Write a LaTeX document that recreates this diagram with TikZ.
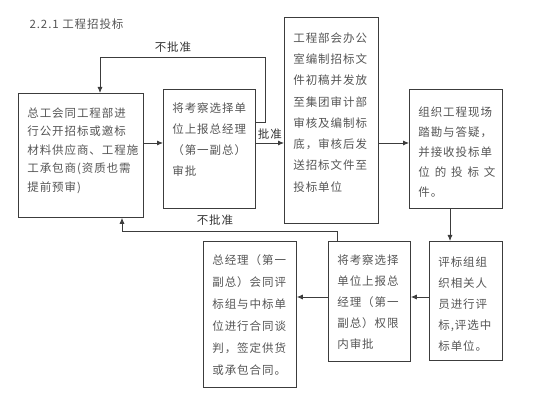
\documentclass[tikz,border=0pt]{standalone}
\usepackage{fontspec}
\setmainfont{Noto Sans CJK SC}[LetterSpace=8]
\usetikzlibrary{arrows.meta}
\definecolor{boxline}{HTML}{3C3C3C}
\definecolor{boxtext}{HTML}{555555}
% width, height, top gap, line skip, lines
\newcommand{\flowtext}[5]{\parbox[c][#2pt][t]{#1pt}{\fontsize{11.5}{#4}\selectfont\leftskip=9pt\parindent=0pt\vspace*{#3pt}#5}}
\begin{document}
\begin{tikzpicture}[x=1pt,y=-1pt,
  procbox/.style={draw=boxline,line width=0.8pt,inner sep=0pt,anchor=north west,text=boxtext},
  flow/.style={draw=boxline,line width=0.8pt,-{Latex[length=6pt,width=5pt]}},
  tag/.style={text=black!80,font=\fontsize{11.5}{12}\selectfont}]
\useasboundingbox (0,0) rectangle (560,406);
\node[anchor=west,text=boxtext,font=\fontsize{11.5}{12}\selectfont] (title) at (26,24) {2.2.1 工程招投标};
% boxes
\node[procbox] (b1) at (18,93) {\flowtext{125}{124}{14}{18.5}{总工会同工程部进\\行公开招标或邀标\\材料供应商、工程施\\工承包商(资质也需\\提前预审)}};
\node[procbox] (b2) at (163,89) {\flowtext{92}{119}{13}{21}{将考察选择单\\位上报总经理\\（第一副总）\\审批}};
\node[procbox] (b3) at (284,17) {\flowtext{94}{206}{15}{21.3}{工程部会办公\\室编制招标文\\件初稿并发放\\至集团审计部\\审核及编制标\\底，审核后发\\送招标文件至\\投标单位}};
\node[procbox] (b4) at (409,89) {\flowtext{93}{119}{17}{20}{组织工程现场\\踏勘与答疑，\\并接收投标单\\\makebox[77pt][s]{位\hfil 的\hfil 投\hfil 标\hfil 文}\\件。}};
\node[procbox] (b5) at (429,241) {\flowtext{73}{119}{15}{21.2}{评标组组\\织相关人\\员进行评\\标,评选中\\标单位。}};
\node[procbox] (b6) at (328,241) {\flowtext{82}{120}{13}{21.2}{将考察选择\\单位上报总\\经理（第一\\副总）权限\\内审批}};
\node[procbox] (b7) at (203,241) {\flowtext{93}{146}{13}{22}{总经理（第一\\副总）会同评\\标组与中标单\\位进行合同谈\\判，签定供货\\或承包合同。}};
% helper coordinates
\coordinate (rowA) at (0,143);
\coordinate (rowB) at (0,297);
\coordinate (colA) at (450,0);
\coordinate (backA) at (265,57);
\coordinate (backB) at (100,57);
\coordinate (backC) at (337,231);
\coordinate (backD) at (122,231);
% connectors
\draw[flow] (b1.east |- rowA) -- (b2.west |- rowA);
\draw[flow] (b2.east |- rowA) -- node[tag,above,xshift=0pt] (ok) {批准} (b3.west |- rowA);
\draw[flow] (b3.east |- rowA) -- (b4.west |- rowA);
\draw[flow] (b4.south -| colA) -- (b5.north -| colA);
\draw[flow] (b5.west |- rowB) -- (b6.east |- rowB);
\draw[flow] (b6.west |- rowB) -- (b7.east |- rowB);
\draw[flow] (b2.east |- 0,122) -| (backA) -- (backB) -- (b1.north -| backB);
\draw[flow] (b6.north -| backC) -- (backC) -- (backD) -- (b1.south -| backD);
\node[tag] (noA) at (173,47) {不批准};
\node[tag] (noB) at (215,220) {不批准};
\end{tikzpicture}
\end{document}
